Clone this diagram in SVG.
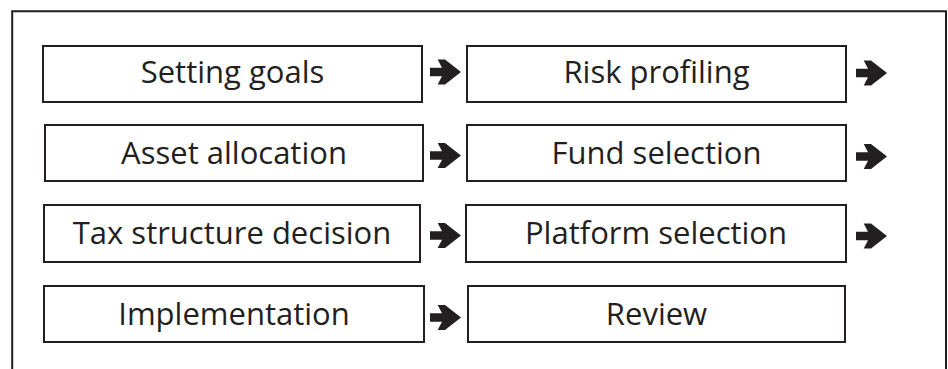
<svg xmlns="http://www.w3.org/2000/svg" width="948" height="369" viewBox="0 0 948 369">
<defs>
<style>
.frame{fill:none;stroke:#231f20;stroke-width:2}
.box{fill:#fff;stroke:#231f20;stroke-width:2}
.lbl{font-family:"Open Sans","Liberation Sans",sans-serif;font-size:31px;fill:#231f20;text-anchor:middle;dominant-baseline:central}
.arr{fill:#231f20}
</style>
<polygon id="arrow" points="0,-4.2 12,-4.2 7.7,-12.5 15,-12.5 31,0 15,12.5 7.7,12.5 12,4.2 0,4.2"/>
</defs>
<rect width="948" height="369" fill="#fff"/>
<path class="frame" d="M12.2,369 V11.3 H946 V369"/>
<g id="connectors" class="arr">
<use href="#arrow" x="430" y="72"/>
<use href="#arrow" x="856" y="73"/>
<use href="#arrow" x="430" y="155.5"/>
<use href="#arrow" x="856" y="156.5"/>
<use href="#arrow" x="430" y="235.5"/>
<use href="#arrow" x="856" y="236"/>
<use href="#arrow" x="430" y="317.5"/>
</g>
<g id="setting-goals"><rect class="box" x="43" y="46" width="379" height="56"/><text class="lbl" x="232.5" y="71">Setting goals</text></g>
<g id="risk-profiling"><rect class="box" x="467" y="46" width="379" height="56"/><text class="lbl" x="656.5" y="71">Risk profiling</text></g>
<g id="asset-allocation"><rect class="box" x="45" y="125" width="378" height="56"/><text class="lbl" x="234" y="152">Asset allocation</text></g>
<g id="fund-selection"><rect class="box" x="467" y="125" width="379" height="56"/><text class="lbl" x="656.5" y="152">Fund selection</text></g>
<g id="tax-structure"><rect class="box" x="44" y="205" width="376" height="57"/><text class="lbl" x="232" y="232">Tax structure decision</text></g>
<g id="platform-selection"><rect class="box" x="466" y="205" width="380" height="57"/><text class="lbl" x="656" y="232">Platform selection</text></g>
<g id="implementation"><rect class="box" x="44" y="286" width="380" height="56"/><text class="lbl" x="234" y="313">Implementation</text></g>
<g id="review"><rect class="box" x="468" y="286" width="377" height="56"/><text class="lbl" x="656.5" y="313">Review</text></g>
</svg>
